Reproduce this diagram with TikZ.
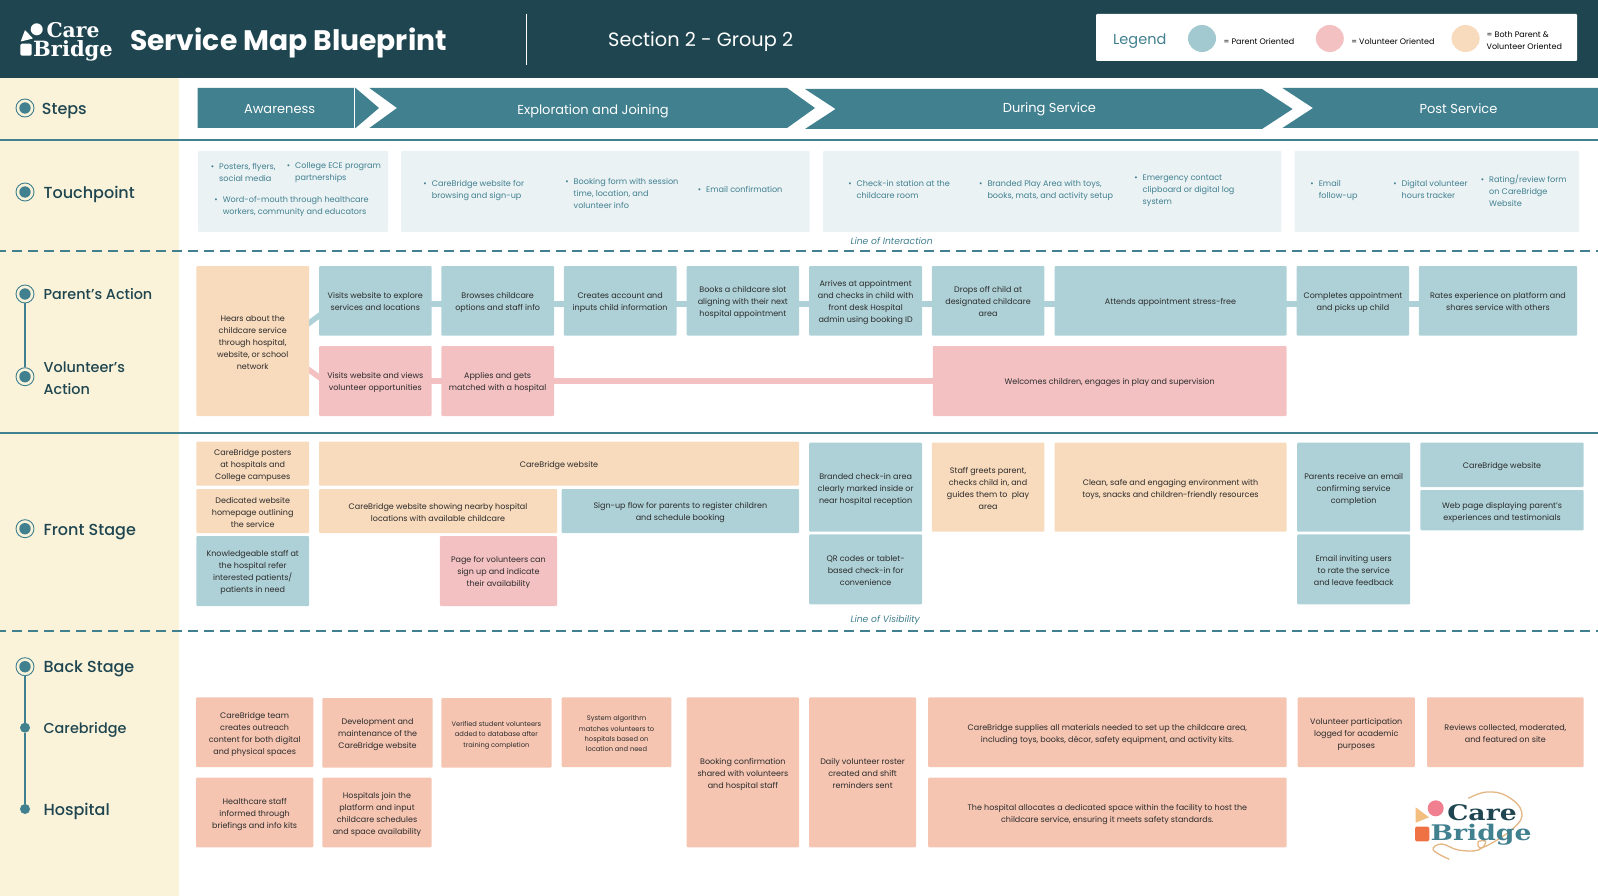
\documentclass[tikz,border=0pt]{standalone}
\usepackage{fontspec}
\setmainfont{Poppins}
\newfontfamily\medfont{Poppins Medium}
\newfontfamily\logofont{DejaVu Serif}
\newfontfamily\logowide{DejaVu Serif}[FakeStretch=1.24]
\usetikzlibrary{backgrounds,shapes.geometric}
\definecolor{headbg}{HTML}{1F4650}
\definecolor{teal}{HTML}{41808F}
\definecolor{creambg}{HTML}{FAF3DA}
\definecolor{touchbg}{HTML}{EAF2F4}
\definecolor{parentc}{HTML}{AED1D7}
\definecolor{volc}{HTML}{F4C1C3}
\definecolor{bothc}{HTML}{F8DABC}
\definecolor{backc}{HTML}{F5C5B2}
\definecolor{inkc}{HTML}{2B2B2B}
\definecolor{threadc}{HTML}{E3B684}
\definecolor{logopink}{HTML}{F08090}
\definecolor{logopeach}{HTML}{F2BF80}
\definecolor{logoorange}{HTML}{EE7244}
\tikzset{
  cellbox/.style={rectangle,rounded corners=1pt,inner sep=0pt,align=center,text=inkc,font=\fontsize{8}{12}\selectfont},
  parentcell/.style={fill=parentc},
  volcell/.style={fill=volc},
  bothcell/.style={fill=bothc},
  backcell/.style={fill=backc},
  smalltext/.style={font=\fontsize{6.7}{10.3}\selectfont},
  touchbox/.style={rectangle,rounded corners=1pt,fill=touchbg},
  touchitem/.style={anchor=west,yshift=1.4pt,inner sep=0pt,align=left,text=teal,font=\fontsize{8.1}{12}\selectfont},
  steptext/.style={yshift=-1pt,text=white,font=\fontsize{13}{15}\selectfont},
  chevron/.style={fill=teal},
  stagelabel/.style={anchor=west,yshift=-2pt,inner sep=0pt,align=left,text=headbg,font=\medfont\fontsize{16}{22}\selectfont},
  stagesmall/.style={font=\medfont\fontsize{14.4}{22}\selectfont},
  stagering/.style={circle,draw=teal,line width=0.9pt,fill=creambg,minimum size=18pt,inner sep=0pt,
    path picture={\fill[teal] (path picture bounding box.center) circle (5.7pt);}},
  stagedot/.style={circle,fill=teal,minimum size=10pt,inner sep=0pt},
  stageline/.style={draw=teal,line width=1.5pt},
  sectionline/.style={draw=teal,line width=2pt},
  visline/.style={draw=teal,line width=2pt,dash pattern=on 10pt off 6pt,dash phase=4pt},
  linelabel/.style={anchor=west,text=teal,inner sep=0pt,font=\itshape\fontsize{9.2}{11}\selectfont},
  parlink/.style={draw=parentc,line width=5.5pt,shorten >=-3pt,shorten <=-3pt},
  vollink/.style={draw=volc,line width=5.5pt,shorten >=-3pt,shorten <=-3pt},
  legendblob/.style={ellipse,minimum width=28pt,minimum height=27pt,inner sep=0pt},
  legendtext/.style={anchor=west,yshift=-1pt,inner sep=0pt,align=left,text=black,font=\fontsize{8}{12}\selectfont},
}
% name, x1, y1, x2, y2, look, text
\newcommand{\mapbox}[7]{\node[cellbox,#6,minimum width={(#4-#2)*1pt},minimum height={(#5-#3)*1pt}] (#1) at ({(#2+#4)/2},{(#3+#5)/2}) {\rule{0pt}{10pt}#7\rule[-2pt]{0pt}{2pt}};}
% name, x, y, text
\newcommand{\tpitem}[4]{\node[touchitem] (#1) at (#2,#3) {\rule{0pt}{10pt}\llap{•\hspace{5pt}}#4\rule[-2pt]{0pt}{2pt}};}
\begin{document}
\begin{tikzpicture}[x=1pt,y=-1pt]
  \useasboundingbox (0,0) rectangle (1598,896);
  \begin{pgfonlayer}{background}
    \fill[creambg] (0,78) rectangle (179,896);
  \end{pgfonlayer}
  \fill[headbg] (0,0) rectangle (1598,78);

  % header
  \fill[white] (36.7,29.3) circle (6);
  \fill[white,rounded corners=0.5pt] (20.7,41.5) -- (25,30) -- (33,38.5) -- cycle;
  \fill[white,rounded corners=2pt] (20.3,43.7) rectangle (31.7,55.7);
  \node[inner sep=0pt,text=white,font=\logofont\bfseries\fontsize{20.3}{22}\selectfont] (logocare) at (73,30.5) {Care};
  \node[inner sep=0pt,text=white,font=\logofont\bfseries\fontsize{21}{22}\selectfont] (logobridge) at (73,51) {Bridge};
  \node[anchor=west,yshift=-4pt,inner sep=0pt,text=white,font=\bfseries\fontsize{28.2}{32}\selectfont] (title) at (130,39) {Service Map Blueprint};
  \draw[white,line width=1.5pt] (526.5,14) -- (526.5,65);
  \node[anchor=west,yshift=-2pt,inner sep=0pt,text=white,font=\fontsize{19.3}{22}\selectfont] (section) at (608,40) {Section 2 - Group 2};
  \fill[white,rounded corners=1pt] (1096.2,14) rectangle (1577.1,61);
  \node[anchor=west,yshift=-1.5pt,inner sep=0pt,text=teal,font=\fontsize{14.5}{16}\selectfont] (legend) at (1113,40) {Legend};
  \node[legendblob,fill=parentc!90!teal] (blobparent) at (1202,38.5) {};
  \node[legendtext] (txtparent) at (1223.4,40) {= Parent Oriented};
  \node[legendblob,fill=volc] (blobvol) at (1329.8,38.5) {};
  \node[legendtext] (txtvol) at (1351.1,40) {= Volunteer Oriented};
  \node[legendblob,fill=bothc] (blobboth) at (1465.6,38.5) {};
  \node[legendtext] (txtboth) at (1486.5,40) {= Both Parent \&\\Volunteer Oriented};

  % steps
  \fill[chevron] (197.5,88) -- (355.6,88) -- (379,108) -- (355.6,128) -- (197.5,128) -- cycle;
  \draw[white,line width=0.6pt] (354.5,88) -- (354.5,128);
  \fill[chevron] (369.4,88) -- (787,88) -- (815,108) -- (787,128) -- (369.4,128) -- (397,108) -- cycle;
  \fill[chevron] (805,89) -- (1262,89) -- (1292.6,109) -- (1262,129) -- (805,129) -- (835.6,109) -- cycle;
  \fill[chevron] (1282.4,88) -- (1598,88) -- (1598,128) -- (1282.4,128) -- (1313,108) -- cycle;
  \node[steptext] (awareness) at (279.6,108) {Awareness};
  \node[steptext] (exploration) at (593,110) {Exploration and Joining};
  \node[steptext] (during) at (1049.4,108) {During Service};
  \node[steptext] (post) at (1458.5,108) {Post Service};

  % section rules
  \draw[sectionline] (0,140) -- (1598,140);
  \draw[visline] (0,250.7) -- (1598,250.7);
  \draw[sectionline] (0,432.7) -- (1598,432.7);
  \draw[visline] (0,630.7) -- (1598,630.7);
  \node[linelabel] (interaction) at (850.4,241) {Line of Interaction};
  \node[linelabel] (visibility) at (850.4,620.5) {Line of Visibility};

  % left column
  \node[stagering] (ringsteps) at (25,108) {};
  \node[stagelabel] (lblsteps) at (41.7,109) {Steps};
  \node[stagering] (ringtouch) at (25,192) {};
  \node[stagelabel] (lbltouch) at (43.4,192) {Touchpoint};
  \node[stagering] (ringparent) at (25,294) {};
  \node[stagelabel,stagesmall] (lblparent) at (43.4,292.5) {Parent’s Action};
  \node[stagering] (ringvol) at (25,376.7) {};
  \node[stagelabel,stagesmall] (lblvol) at (43.4,376) {Volunteer’s\\Action};
  \node[stagering] (ringfront) at (25,528.7) {};
  \node[stagelabel] (lblfront) at (43.4,530) {Front Stage};
  \node[stagering] (ringback) at (25,666.7) {};
  \node[stagelabel] (lblback) at (43.4,667) {Back Stage};
  \node[stagedot] (dotcare) at (25,727.7) {};
  \node[stagelabel,stagesmall] (lblcare) at (43.4,728) {Carebridge};
  \node[stagedot] (dothosp) at (25,809) {};
  \node[stagelabel] (lblhosp) at (43.4,809) {Hospital};
  \begin{pgfonlayer}{background}
    \draw[stageline] (ringparent) -- (ringvol);
    \draw[stageline] (ringback) -- (dotcare);
    \draw[stageline] (dotcare) -- (dothosp);
  \end{pgfonlayer}

  % touchpoints
  \fill[touchbox] (198,151) rectangle (388,232);
  \fill[touchbox] (401,151) rectangle (809.7,232);
  \fill[touchbox] (822.9,151) rectangle (1281.4,232);
  \fill[touchbox] (1294.7,151) rectangle (1579.1,232);
  \tpitem{tposters}{219}{173}{Posters, flyers,\\social media}
  \tpitem{tcollege}{295}{172}{College ECE program\\partnerships}
  \tpitem{tword}{222.6}{206}{Word-of-mouth through healthcare\\workers, community and educators}
  \tpitem{twebsite}{431.6}{190}{CareBridge website for\\browsing and sign-up}
  \tpitem{tbooking}{573.5}{194}{Booking form with session\\time, location, and\\volunteer info}
  \tpitem{temail}{706}{190}{Email confirmation}
  \tpitem{tcheck}{856.5}{190}{Check-in station at the\\childcare room}
  \tpitem{tplay}{987.3}{190}{Branded Play Area with toys,\\books, mats, and activity setup}
  \tpitem{temerg}{1142.5}{190}{Emergency contact\\clipboard or digital log\\system}
  \tpitem{tfollow}{1318.6}{190}{Email\\follow-up}
  \tpitem{thours}{1401.5}{190}{Digital volunteer\\hours tracker}
  \tpitem{trating}{1489}{192}{Rating/review form\\on CareBridge\\Website}

  % actions
  \mapbox{hears}{196.4}{266}{309}{416}{bothcell}{Hears about the\\childcare service\\through hospital,\\website, or school\\network}
  \mapbox{visits}{319}{266}{431.6}{335.7}{parentcell}{Visits website to explore\\services and locations}
  \mapbox{browses}{441.3}{266}{554}{335.7}{parentcell}{Browses childcare\\options and staff info}
  \mapbox{creates}{563.8}{266}{676.5}{335.7}{parentcell}{Creates account and\\inputs child information}
  \mapbox{books}{686.7}{266}{799}{335.7}{parentcell}{Books a childcare slot\\aligning with their next\\hospital appointment}
  \mapbox{arrives}{809.2}{266}{922.1}{335.7}{parentcell}{Arrives at appointment\\and checks in child with\\front desk Hospital\\admin using booking ID}
  \mapbox{drops}{931.8}{266}{1044.3}{335.7}{parentcell}{Drops off child at\\designated childcare\\area}
  \mapbox{attends}{1054.5}{266}{1286.5}{335.7}{parentcell}{Attends appointment stress-free}
  \mapbox{completes}{1296.7}{266}{1409.2}{335.7}{parentcell}{Completes appointment\\and picks up child}
  \mapbox{rates}{1418.8}{266}{1577.1}{335.7}{parentcell}{Rates experience on platform and\\shares service with others}
  \mapbox{volvisits}{319}{346}{431.6}{416}{volcell}{Visits website and views\\volunteer opportunities}
  \mapbox{applies}{441.3}{346}{554}{416}{volcell}{Applies and gets\\matched with a hospital}
  \mapbox{welcomes}{932.8}{346}{1286.5}{416}{volcell}{Welcomes children, engages in play and supervision}
  \begin{pgfonlayer}{background}
    \draw[parlink] ([yshift=18pt]hears.east) -- ([yshift=-15pt]visits.west);
    \draw[parlink] ([yshift=-3pt]visits.east) -- ([yshift=-3pt]browses.west);
    \draw[parlink] ([yshift=-3pt]browses.east) -- ([yshift=-3pt]creates.west);
    \draw[parlink] ([yshift=-3pt]creates.east) -- ([yshift=-3pt]books.west);
    \draw[parlink] ([yshift=-3pt]books.east) -- ([yshift=-3pt]arrives.west);
    \draw[parlink] ([yshift=-3pt]arrives.east) -- ([yshift=-3pt]drops.west);
    \draw[parlink] ([yshift=-3pt]drops.east) -- ([yshift=-3pt]attends.west);
    \draw[parlink] ([yshift=-3pt]attends.east) -- ([yshift=-3pt]completes.west);
    \draw[parlink] ([yshift=-3pt]completes.east) -- ([yshift=-3pt]rates.west);
    \draw[vollink] ([yshift=-29pt]hears.east) -- ([yshift=4pt]volvisits.west);
    \draw[vollink] (volvisits) -- (applies);
    \draw[vollink] (applies) -- (welcomes);
  \end{pgfonlayer}

  % front stage
  \mapbox{fposters}{196.4}{441.7}{309}{485.7}{bothcell}{CareBridge posters\\at hospitals and\\College campuses}
  \mapbox{fsite}{319}{441.7}{799}{485.7}{bothcell}{CareBridge website}
  \mapbox{fdedicated}{196.4}{489}{309}{533}{bothcell}{Dedicated website\\homepage outlining\\the service}
  \mapbox{fnearby}{319}{489}{557}{533}{bothcell}{CareBridge website showing nearby hospital\\locations with available childcare}
  \mapbox{fsignup}{561.7}{489}{799}{533}{parentcell}{Sign-up flow for parents to register children\\and schedule booking}
  \mapbox{fstaff}{196.4}{536}{309}{606}{parentcell}{Knowledgeable staff at\\the hospital refer\\interested patients/\\patients in need}
  \mapbox{fpage}{439.8}{536}{557}{606}{volcell}{Page for volunteers can\\sign up and indicate\\their availability}
  \mapbox{fbranded}{809.2}{442.7}{922.1}{531.7}{parentcell}{Branded check-in area\\clearly marked inside or\\near hospital reception}
  \mapbox{fqr}{809.2}{534.3}{922.1}{604.3}{parentcell}{QR codes or tablet-\\based check-in for\\convenience}
  \mapbox{fgreets}{931.8}{442.7}{1044.3}{531.7}{bothcell}{Staff greets parent,\\checks child in, and\\guides them to~ play\\area}
  \mapbox{fclean}{1054.5}{442.7}{1286.5}{531.7}{bothcell}{Clean, safe and engaging environment with\\toys, snacks and children-friendly resources}
  \mapbox{freceive}{1297.2}{442.7}{1410.2}{531.7}{parentcell}{Parents receive an email\\confirming service\\completion}
  \mapbox{finvite}{1297.2}{534.3}{1410.2}{604.3}{parentcell}{Email inviting users\\to rate the service\\and leave feedback}
  \mapbox{fsite2}{1420.4}{442.7}{1583.7}{487}{parentcell}{CareBridge website}
  \mapbox{fweb}{1420.4}{490}{1583.7}{530.3}{parentcell}{Web page displaying parent’s\\experiences and testimonials}

  % back stage
  \mapbox{bteam}{196}{697.3}{313.3}{767}{backcell}{CareBridge team\\creates outreach\\content for both digital\\and physical spaces}
  \mapbox{bdev}{322.4}{698}{432.7}{767.7}{backcell}{Development and\\maintenance of the\\CareBridge website}
  \mapbox{bverified}{441.3}{698}{551.5}{767.7}{backcell,smalltext}{Verified student volunteers\\added to database after\\training completion}
  \mapbox{bsystem}{561.7}{697.3}{671.4}{767}{backcell,smalltext}{System algorithm\\matches volunteers to\\hospitals based on\\location and need}
  \mapbox{bhealth}{196}{777.7}{313.3}{847.3}{backcell}{Healthcare staff\\informed through\\briefings and info kits}
  \mapbox{bhosp}{322.4}{777.7}{431.6}{847.3}{backcell}{Hospitals join the\\platform and input\\childcare schedules\\and space availability}
  \mapbox{bbooking}{686.7}{697.3}{799}{847.3}{backcell}{Booking confirmation\\shared with volunteers\\and hospital staff}
  \mapbox{bdaily}{809.2}{697.3}{916}{847.3}{backcell}{Daily volunteer roster\\created and shift\\reminders sent}
  \mapbox{bsupplies}{928.2}{697.3}{1286.5}{767}{backcell}{CareBridge supplies all materials needed to set up the childcare area,\\including toys, books, décor, safety equipment, and activity kits.}
  \mapbox{ballocates}{928.2}{777.7}{1286.5}{847.3}{backcell}{The hospital allocates a dedicated space within the facility to host the\\childcare service, ensuring it meets safety standards.}
  \mapbox{bpart}{1297.7}{697.3}{1414.8}{767}{backcell}{Volunteer participation\\logged for academic\\purposes}
  \mapbox{breviews}{1427}{697.3}{1583.7}{767}{backcell}{Reviews collected, moderated,\\and featured on site}

  % logo
  \draw[threadc,line width=1.3pt] plot[smooth,tension=0.7] coordinates {(1449.3,859.3) (1433.3,850) (1441.7,844) (1458.3,850) (1478.3,850) (1485.7,841.7) (1478.3,841.7) (1483.3,847.3) (1513.3,828.3) (1521.7,811.7) (1506.7,796) (1486.7,792) (1468.3,798.3)};
  \fill[logopink] (1435.7,808.3) circle (8);
  \fill[logopeach] (1415.7,807.3) -- (1429,817.3) -- (1415.7,822.7) -- cycle;
  \fill[logoorange,rounded corners=1.5pt] (1415,826.7) rectangle (1429.3,841.3);
  \node[inner sep=0pt,text=headbg,font=\logowide\bfseries\fontsize{21.5}{24}\selectfont] (logocare2) at (1482,812.5) {Care};
  \node[inner sep=0pt,text=teal,font=\logowide\bfseries\fontsize{21.5}{24}\selectfont] (logobridge2) at (1481,835) {Bridge};
\end{tikzpicture}
\end{document}
